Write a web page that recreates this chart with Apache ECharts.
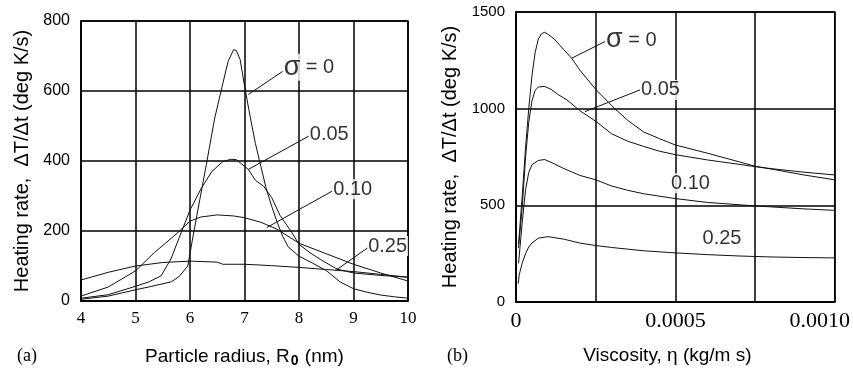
<!DOCTYPE html>
<html><head><meta charset="utf-8">
<script src="https://cdn.jsdelivr.net/npm/echarts@6/dist/echarts.min.js"></script>
<style>html,body{margin:0;padding:0;background:#fff}#c{width:853px;height:373px}</style>
</head><body><div id="c"></div>
<script>
// ---------- Panel (a): heating rate vs particle radius ----------
const radiusTicks = [4, 5, 6, 7, 8, 9, 10];
const a_s0_x = [4, 4.5, 5, 5.3, 5.66, 5.8, 5.96, 6.05, 6.18, 6.3, 6.45, 6.6, 6.7, 6.8, 6.85, 6.92, 7.0, 7.1, 7.2, 7.3, 7.4, 7.5, 7.6, 7.7, 7.8, 8.0, 8.25, 8.5, 8.75, 9.0, 9.25, 9.5, 9.75, 10];
const a_s0_y = [5, 14, 32, 42, 55, 70, 100, 180, 290, 390, 520, 620, 685, 718, 716, 690, 615, 530, 450, 385, 320, 270, 225, 185, 155, 128, 108, 87, 55, 35, 25, 17, 12, 8];
const a_s05_x = [4, 4.5, 5, 5.25, 5.47, 5.65, 5.84, 6.0, 6.2, 6.4, 6.6, 6.75, 6.85, 7.07, 7.2, 7.35, 7.5, 7.65, 7.85, 8.0, 8.2, 8.4, 8.7, 9.0, 9.5, 10];
const a_s05_y = [8, 18, 42, 55, 72, 120, 196, 260, 320, 370, 398, 405, 404, 376, 345, 328, 295, 245, 200, 162, 138, 118, 91, 80, 73, 68];
const a_s10_x = [4, 4.5, 5, 5.35, 5.55, 5.78, 6.0, 6.2, 6.5, 6.8, 7.0, 7.3, 7.6, 8.0, 8.5, 9.0, 9.5, 10];
const a_s10_y = [14, 40, 86, 139, 165, 196, 228, 240, 246, 243, 238, 225, 205, 165, 135, 105, 80, 57];
const a_s25_x = [4, 4.5, 5, 5.5, 6.0, 6.5, 6.6, 7.0, 7.5, 8.0, 8.5, 9.0, 9.5, 10];
const a_s25_y = [60, 82, 100, 110, 114, 111, 105, 105, 101, 96, 90, 84, 76, 68];
const a_labels = ['σ = 0', '0.05', '0.10', '0.25'];
const a_labelX = [7.70, 8.18, 8.61, 9.25];
const a_labelY = [668, 476, 319, 157];
const a_leadX0 = [7.07, 7.07, 7.41, 8.66];
const a_leadY0 = [590, 376, 210, 86];
const a_leadX1 = [7.70, 8.18, 8.61, 9.27];
const a_leadY1 = [656, 471, 314, 153];

// ---------- Panel (b): heating rate vs viscosity ----------
const b_s0_x = [0.000008, 0.00002, 0.00003, 0.00004, 0.00005, 0.00006, 0.00007, 0.00008, 0.00009, 0.0001, 0.00012, 0.00015, 0.000175, 0.0002, 0.00025, 0.00031, 0.00035, 0.0004, 0.00045, 0.0005, 0.0006, 0.0007, 0.00075, 0.0008, 0.0009, 0.001];
const b_s0_y = [300, 560, 800, 1000, 1170, 1290, 1360, 1388, 1395, 1385, 1360, 1305, 1260, 1200, 1100, 1000, 940, 880, 845, 812, 770, 725, 702, 688, 658, 632];
const b_s05_x = [0.000008, 0.00002, 0.00003, 0.00004, 0.00005, 0.00006, 0.00007, 0.00009, 0.00011, 0.00013, 0.00016, 0.0002, 0.00025, 0.0003, 0.00035, 0.0004, 0.00045, 0.0005, 0.0006, 0.0007, 0.00075, 0.0008, 0.0009, 0.001];
const b_s05_y = [280, 500, 750, 930, 1040, 1095, 1112, 1115, 1100, 1075, 1045, 990, 935, 870, 832, 805, 780, 762, 735, 712, 700, 690, 672, 657];
const b_s10_x = [0.000008, 0.00002, 0.00003, 0.00004, 0.00005, 0.00007, 0.00009, 0.00012, 0.00015, 0.0002, 0.00025, 0.0003, 0.00035, 0.0004, 0.0005, 0.0006, 0.0007, 0.00075, 0.0008, 0.0009, 0.001];
const b_s10_y = [200, 420, 580, 670, 710, 732, 737, 715, 690, 655, 632, 600, 578, 560, 535, 515, 503, 497, 492, 482, 474];
const b_s25_x = [0.000007, 0.00001, 0.00002, 0.00003, 0.00004, 0.00005, 0.00007, 0.0001, 0.00015, 0.0002, 0.00025, 0.0003, 0.0004, 0.0005, 0.0006, 0.0007, 0.0008, 0.0009, 0.001];
const b_s25_y = [95, 140, 205, 250, 285, 305, 330, 338, 325, 305, 292, 282, 265, 254, 245, 238, 233, 230, 228];
const b_labels = ['σ = 0', '0.05', '0.10', '0.25'];
const b_labelX = [0.000279, 0.000389, 0.000483, 0.000582];
const b_labelY = [1355, 1097, 614, 330];
const b_leadX0 = [0.0001746, 0.0002163];
const b_leadY0 = [1261, 985];
const b_leadX1 = [0.000279, 0.000389];
const b_leadY1 = [1347, 1097];

const SANS = '"Liberation Sans", Arial, sans-serif';
const SERIF = '"Liberation Serif", "Times New Roman", serif';
const zip = (xs, ys) => xs.map((x, i) => [x, ys[i]]);

function curve(xs, ys, idx) {
  return { type: 'line', xAxisIndex: idx, yAxisIndex: idx, data: zip(xs, ys), showSymbol: false, symbol: 'none',
    lineStyle: { color: '#111', width: 1 }, silent: true, animation: false, z: 3 };
}
function leaders(x0, y0, x1, y1, idx) {
  return x0.map((x, i) => ({ type: 'line', xAxisIndex: idx, yAxisIndex: idx, data: [[x, y0[i]], [x1[i], y1[i]]],
    symbol: 'none', lineStyle: { color: '#111', width: 1 }, silent: true, animation: false, z: 4 }));
}
function labels(names, xs, ys, idx) {
  return { type: 'scatter', xAxisIndex: idx, yAxisIndex: idx, symbolSize: 0, silent: true, animation: false, z: 6,
    data: names.map((n, i) => ({ value: [xs[i], ys[i]], name: n })),
    label: { show: true, position: 'right', distance: 0, color: '#000', fontFamily: SANS, fontSize: 20,
      backgroundColor: '#fff', padding: [0, 1, 0, 1],
      formatter: p => p.name.startsWith('σ') ? '{g|σ} = 0' : p.name,
      rich: { g: { fontSize: 27, fontFamily: SANS, color: '#000' } } } };
}

const axisCommon = {
  axisLine: { show: true, lineStyle: { color: '#000', width: 1.5 } },
  axisTick: { show: false },
  splitLine: { show: true, lineStyle: { color: '#000', width: 1.5 } }
};

const option = {
  backgroundColor: '#fff',
  animation: false,
  title: [
    { text: '(a)', left: 12, top: 342, textStyle: { fontFamily: SERIF, fontSize: 18, fontWeight: 'normal', color: '#000' } },
    { text: '(b)', left: 442, top: 342, textStyle: { fontFamily: SERIF, fontSize: 18, fontWeight: 'normal', color: '#000' } }
  ],
  grid: [
    { left: 81, top: 21, width: 327, height: 281, show: true, borderColor: '#000', borderWidth: 1.5 },
    { left: 516, top: 12, width: 319, height: 290, show: true, borderColor: '#000', borderWidth: 1.5 }
  ],
  xAxis: [
    Object.assign({ type: 'value', gridIndex: 0, min: 4, max: 10, interval: 1,
      axisLabel: { color: '#000', fontFamily: SERIF, fontSize: 17, margin: 9 },
      name: 'Particle radius, R{sub|0} (nm)', nameLocation: 'middle', nameGap: 44,
      nameTextStyle: { color: '#000', fontFamily: SANS, fontSize: 19,
        rich: { sub: { fontFamily: SANS, fontSize: 14, fontWeight: 'bold', color: '#000', padding: [9, 1, 0, 1] } } } }, axisCommon),
    Object.assign({ type: 'value', gridIndex: 1, min: 0, max: 0.001, interval: 0.00025,
      axisLabel: { color: '#000', fontFamily: SERIF, fontSize: 22, margin: 8,
        formatter: v => (Math.abs(v - 0.0005) < 1e-9 ? '0.0005' : Math.abs(v - 0.001) < 1e-9 ? '{m|0.0010}' : v === 0 ? '0' : ''),
        rich: { m: { fontFamily: SERIF, fontSize: 22, color: '#000', padding: [0, 30, 0, 0] } } },
      name: 'Viscosity, η (kg/m s)', nameLocation: 'middle', nameGap: 44,
      nameTextStyle: { color: '#000', fontFamily: SANS, fontSize: 19, padding: [0, 16, 0, 0] } }, axisCommon)
  ],
  yAxis: [
    Object.assign({ type: 'value', gridIndex: 0, min: 0, max: 800, interval: 200,
      axisLabel: { color: '#000', fontFamily: SANS, fontSize: 16, margin: 11, formatter: v => String(v) },
      name: 'Heating rate,  ΔT/Δt (deg K/s)', nameLocation: 'middle', nameGap: 49, nameRotate: 90,
      nameTextStyle: { color: '#000', fontFamily: SANS, fontSize: 20 } }, axisCommon),
    Object.assign({ type: 'value', gridIndex: 1, min: 0, max: 1500, interval: 500,
      axisLabel: { color: '#000', fontFamily: SANS, fontSize: 15, margin: 11, formatter: v => String(v) },
      name: 'Heating rate,  ΔT/Δt (deg K/s)', nameLocation: 'middle', nameGap: 56, nameRotate: 90,
      nameTextStyle: { color: '#000', fontFamily: SANS, fontSize: 20 } }, axisCommon)
  ],
  series: [
    curve(a_s0_x, a_s0_y, 0), curve(a_s05_x, a_s05_y, 0), curve(a_s10_x, a_s10_y, 0), curve(a_s25_x, a_s25_y, 0),
    curve(b_s0_x, b_s0_y, 1), curve(b_s05_x, b_s05_y, 1), curve(b_s10_x, b_s10_y, 1), curve(b_s25_x, b_s25_y, 1),
    ...leaders(a_leadX0, a_leadY0, a_leadX1, a_leadY1, 0),
    ...leaders(b_leadX0, b_leadY0, b_leadX1, b_leadY1, 1),
    labels(a_labels, a_labelX, a_labelY, 0),
    labels(b_labels, b_labelX, b_labelY, 1)
  ]
};
const chart = echarts.init(document.getElementById('c'), null, { renderer: 'canvas' });
chart.setOption(option);
</script></body></html>
